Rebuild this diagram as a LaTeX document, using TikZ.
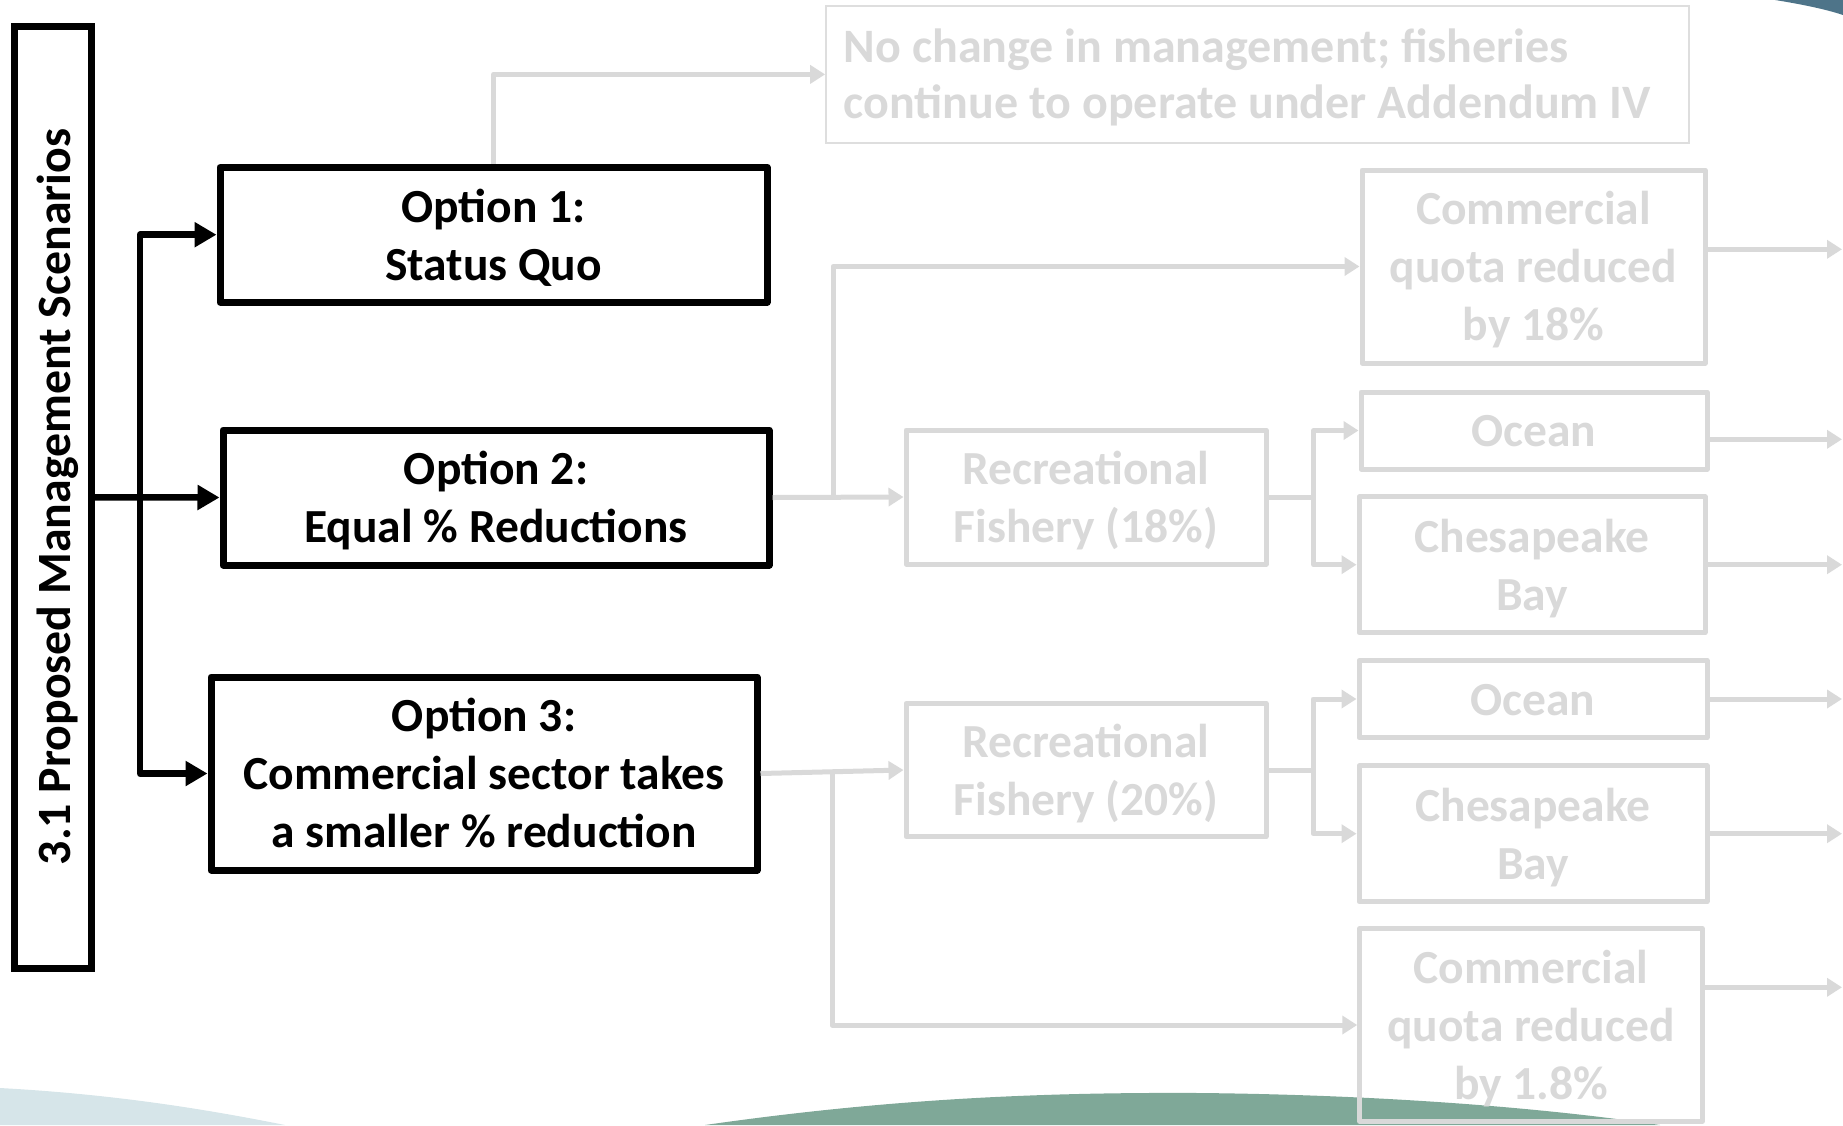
\documentclass[tikz,border=0pt]{standalone}
\usepackage{fontspec}
\setmainfont{Carlito}
\usetikzlibrary{arrows.meta}
\definecolor{greyc}{HTML}{D9D9D9}
\definecolor{thinline}{HTML}{DEDEDE}
\definecolor{seagreen}{HTML}{7FA898}
\definecolor{mist}{HTML}{D6E5E9}
\definecolor{slate}{HTML}{4E7489}

% invisible struts that fix the height of the first line and the depth of the last
\newcommand{\upstrut}{\rule{0pt}{45pt}}
\newcommand{\downstrut}{\rule[-12.4pt]{0pt}{12.4pt}}

\tikzset{
  txt/.style={font=\fontsize{47.5}{58}\selectfont\bfseries},
  blackbox/.style={txt, draw=black, line width=7pt, align=center, inner sep=0pt, line join=round},
  greybox/.style={txt, draw=greyc, text=greyc, line width=5pt, align=center, inner sep=0pt, line join=round},
  blackarrow/.style={draw=black, line width=6.5pt, line join=round, -{Triangle[length=22pt,width=24pt]}},
  greyarrow/.style={draw=greyc, line width=5pt, line join=round, -{Triangle[length=15pt,width=18pt]}},
  greyline/.style={draw=greyc, line width=5pt, line join=round},
}

\begin{document}
\begin{tikzpicture}[x=1pt,y=-1pt]
\useasboundingbox (0,0) rectangle (1843,1125);

% decorative waves along the page edges
\fill[mist] (0,1088) .. controls (110,1094) and (200,1108) .. (285,1125) -- (0,1125) -- cycle;
\fill[seagreen] (705,1125) .. controls (880,1100) and (1030,1092) .. (1200,1093)
  .. controls (1400,1095) and (1560,1110) .. (1660,1125) -- cycle;
\fill[slate] (1775,0) .. controls (1800,4) and (1825,9) .. (1843,15) -- (1843,0) -- cycle;

% title bar
\node[draw=black, line width=7pt, inner sep=0pt, minimum width=77.5pt, minimum height=941.5pt] (side) at (52.75,497.25) {};
\node[font=\fontsize{47.8}{58}\selectfont\bfseries, rotate=90, anchor=base, inner sep=0pt] (title) at (70,497) {3.1 Proposed Management Scenarios};

% management options
\node[blackbox, minimum width=547pt, minimum height=135pt] (opt1) at (493.5,234.7) {\upstrut Option 1:\\Status Quo\downstrut};
\node[blackbox, minimum width=546pt, minimum height=135pt] (opt2) at (496,497.5) {\upstrut Option 2:\\Equal \% Reductions\downstrut};
\node[blackbox, minimum width=546pt, minimum height=193pt] (opt3) at (484,773.5) {\upstrut Option 3:\\Commercial sector takes\\a smaller \% reduction\downstrut};

% outcomes
\node[font=\fontsize{48}{56}\selectfont\bfseries, draw=thinline, line width=1.5pt, text=greyc, align=flush left,
      inner xsep=18pt, inner ysep=0pt, text width=827pt, minimum height=136.7pt] (nochange) at (1257.4,74.4)
  {\upstrut No change in management; fisheries\\continue to operate under Addendum IV\downstrut};
\node[greybox, minimum width=360pt, minimum height=134pt] (rec1) at (1086,497) {\upstrut Recreational\\Fishery (18\%)\downstrut};
\node[greybox, minimum width=360pt, minimum height=133pt] (rec2) at (1086,770) {\upstrut Recreational\\Fishery (20\%)\downstrut};
\node[greybox, minimum width=343pt, minimum height=193pt] (com1) at (1533.5,266.5) {\upstrut Commercial\\quota reduced\\by 18\%\downstrut};
\node[greybox, minimum width=346pt, minimum height=77pt] (ocean1) at (1534,430.5) {\upstrut Ocean\downstrut};
\node[greybox, minimum width=346pt, minimum height=135.7pt] (ches1) at (1532,564.7) {\upstrut Chesapeake\\Bay\downstrut};
\node[greybox, minimum width=348pt, minimum height=77pt] (ocean2) at (1533,699) {\upstrut Ocean\downstrut};
\node[greybox, minimum width=348pt, minimum height=135.7pt] (ches2) at (1533,833.7) {\upstrut Chesapeake\\Bay\downstrut};
\node[greybox, minimum width=342.5pt, minimum height=192.5pt] (com2) at (1531,1025) {\upstrut Commercial\\quota reduced\\by 1.8\%\downstrut};

% black connectors
\coordinate (fork) at (140,497.5);
\draw[blackarrow] (side.east) -- (opt2.west);
\draw[blackarrow] (fork) |- (opt1.west);
\draw[blackarrow] (fork) |- (opt3.west);

% grey connectors
\draw[greyarrow] (opt1.north) |- (nochange.west);
\coordinate (j2) at (833,497.5);
\coordinate (j3) at (832,771.8);
\draw[greyarrow] (opt2.east) -- (rec1.west);
\draw[greyarrow] (j2) |- (com1.west);
\draw[greyarrow] (opt3.east) -- (rec2.west);
\draw[greyarrow] (j3) |- (com2.west);

\coordinate (k1) at (1313.6,497);
\coordinate (k2) at (1313,770);
\draw[greyline] (rec1.east) -- (k1);
\draw[greyarrow] (k1) |- (ocean1.west);
\draw[greyarrow] (k1) |- (ches1.west);
\draw[greyline] (rec2.east) -- (k2);
\draw[greyarrow] (k2) |- (ocean2.west);
\draw[greyarrow] (k2) |- (ches2.west);

% arrows leaving the right-hand column
\coordinate (rim) at (1842,0);
\coordinate (o1) at ([yshift=17.2pt]com1.east);
\coordinate (o2) at ([yshift=-8.8pt]ocean1.east);
\coordinate (o3) at (ches1.east);
\coordinate (o4) at (ocean2.east);
\coordinate (o5) at (ches2.east);
\coordinate (o6) at ([yshift=37.7pt]com2.east);
\foreach \p in {o1,o2,o3,o4,o5,o6}
  \draw[greyarrow] (\p) -- (\p -| rim);
\end{tikzpicture}
\end{document}
